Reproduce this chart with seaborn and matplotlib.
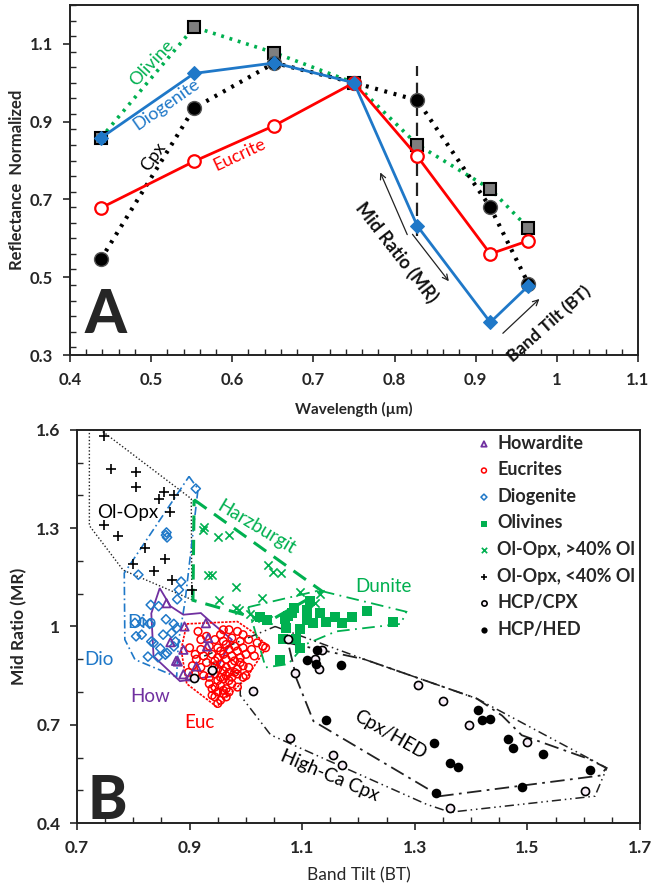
import numpy as np
import pandas as pd
import matplotlib
matplotlib.use("Agg")
import matplotlib.pyplot as plt
from matplotlib.ticker import MultipleLocator, FuncFormatter
from matplotlib.patches import Polygon
import seaborn as sns

sns.set_style("ticks")
plt.rcParams['font.family'] = ['Lato', 'DejaVu Sans']

GREEN = '#00B050'
BLUE = '#1F78C8'
RED = '#FF0000'
PURPLE = '#7030A0'

# ---- Panel A: normalized spectra
wavelength = [0.438, 0.553, 0.652, 0.750, 0.828, 0.918, 0.965]
olivine = [0.858, 1.143, 1.077, 1.000, 0.841, 0.727, 0.626]
diogenite = [0.858, 1.024, 1.051, 1.000, 0.632, 0.384, 0.478]
cpx = [0.546, 0.935, 1.051, 1.000, 0.955, 0.680, 0.483]
eucrite = [0.678, 0.798, 0.890, 1.000, 0.811, 0.560, 0.594]
mr_band = 0.828
mr_band_span = (0.605, 1.043)

# ---- Panel B: band parameters (Band Tilt, Mid Ratio)
how_bt = [0.859, 0.891, 0.866, 0.929, 0.933, 0.931, 0.879, 0.889, 0.901, 0.889, 0.912, 0.876]
how_mr = [1.071, 1.000, 0.952, 1.010, 0.965, 0.939, 0.893, 0.929, 0.848, 0.854, 0.878, 0.895]

dio_bt = [0.911, 0.859, 0.858, 0.860, 0.809, 0.885, 0.881, 0.878, 0.831, 0.845, 0.858, 0.816,
          0.829, 0.872, 0.803, 0.877, 0.805, 0.815, 0.832, 0.853, 0.868, 0.826, 0.848, 0.857,
          0.875, 0.844, 0.860, 0.872, 0.836]
dio_mr = [1.421, 1.287, 1.279, 1.272, 1.158, 1.137, 1.112, 1.083, 1.066, 1.062, 1.022, 1.014,
          1.008, 1.008, 1.011, 0.995, 0.970, 0.975, 0.954, 0.975, 0.980, 0.908, 0.933, 0.914,
          0.954, 0.906, 0.919, 0.939, 0.950]

euc_bt = [0.915, 0.970, 0.985, 0.955, 0.930, 0.995,
          0.920, 0.945, 0.960, 0.975, 0.990, 1.005, 1.020, 1.030,
          0.900, 0.935, 0.950, 0.965, 0.980, 0.995, 1.010, 0.955, 0.970, 0.985,
          0.910, 0.925, 0.940, 0.950, 0.960, 0.975, 0.990, 1.000, 1.015, 0.965, 0.945, 0.980,
          0.905, 0.920, 0.930, 0.945, 0.955, 0.965, 0.975, 0.985, 0.995, 1.005, 0.960, 0.950, 0.940,
          0.910, 0.925, 0.935, 0.945, 0.955, 0.965, 0.975, 0.985, 0.995, 0.970, 0.950, 0.960,
          0.935, 0.945, 0.955, 0.965, 0.975, 0.985, 0.960, 0.950, 0.940, 0.970,
          0.945, 0.955, 0.965, 0.950, 0.960, 0.940,
          0.898, 0.920, 0.912, 1.035, 0.960, 0.980, 0.990, 1.000, 0.970]
euc_mr = [0.985, 0.990, 0.985, 0.975, 0.970, 0.975,
          0.960, 0.960, 0.955, 0.965, 0.955, 0.960, 0.950, 0.940,
          0.935, 0.940, 0.935, 0.945, 0.940, 0.935, 0.930, 0.925, 0.930, 0.925,
          0.915, 0.910, 0.915, 0.905, 0.915, 0.910, 0.905, 0.915, 0.910, 0.900, 0.895, 0.895,
          0.880, 0.875, 0.890, 0.880, 0.885, 0.875, 0.885, 0.870, 0.880, 0.875, 0.865, 0.870, 0.865,
          0.855, 0.850, 0.845, 0.855, 0.845, 0.850, 0.845, 0.855, 0.845, 0.835, 0.835, 0.840,
          0.825, 0.815, 0.820, 0.810, 0.825, 0.815, 0.805, 0.800, 0.810, 0.800,
          0.785, 0.775, 0.785, 0.765, 0.795, 0.790,
          0.860, 0.930, 0.900, 0.935, 0.990, 0.860, 0.890, 0.850, 0.860]

oliv_bt = [1.114, 1.085, 1.109, 1.074, 1.108, 1.119, 1.158, 1.143, 1.170, 1.188, 1.215, 1.262,
           1.096, 1.069, 1.066, 1.089, 1.096, 1.061, 1.025, 1.037, 1.072, 1.082, 1.131]
oliv_mr = [1.078, 1.056, 1.049, 1.031, 1.021, 1.012, 1.029, 1.013, 1.010, 1.028, 1.047, 1.015,
           0.992, 1.022, 0.962, 0.962, 0.935, 0.899, 1.028, 1.020, 0.995, 1.040, 1.040]

olopx_hi_bt = [0.924, 0.926, 0.951, 0.970, 0.933, 0.940, 0.983, 0.953, 0.983, 1.040, 1.048,
               1.062, 1.029, 1.096, 1.131, 1.007, 1.016, 1.040, 1.122, 0.987]
olopx_hi_mr = [1.295, 1.305, 1.272, 1.280, 1.156, 1.156, 1.120, 1.080, 1.055, 1.188, 1.165,
               1.163, 1.088, 1.104, 1.100, 1.038, 1.027, 1.020, 1.071, 1.051]

olopx_lo_bt = [0.748, 0.760, 0.804, 0.804, 0.855, 0.873, 0.846, 0.865, 0.748, 0.772, 0.821,
               0.857, 0.799, 0.836, 0.868, 0.905]
olopx_lo_mr = [1.583, 1.481, 1.471, 1.427, 1.412, 1.402, 1.390, 1.349, 1.310, 1.275, 1.239,
               1.207, 1.190, 1.170, 1.141, 1.110]

hcp_cpx_bt = [1.087, 1.129, 1.305, 1.350, 1.397, 1.499, 1.078, 1.154, 1.170, 1.363, 1.602,
              1.135, 1.123, 1.075, 1.013, 0.907, 0.940]
hcp_cpx_mr = [0.858, 0.870, 0.820, 0.774, 0.698, 0.648, 0.660, 0.609, 0.576, 0.447, 0.497,
              0.929, 0.900, 0.962, 0.802, 0.842, 0.868]

hcp_hed_bt = [1.108, 1.124, 1.169, 1.126, 1.412, 1.420, 1.434, 1.142, 1.334, 1.465, 1.475,
              1.528, 1.363, 1.376, 1.611, 1.490, 1.337]
hcp_hed_mr = [0.897, 0.887, 0.883, 0.929, 0.746, 0.714, 0.718, 0.713, 0.643, 0.658, 0.628,
              0.610, 0.584, 0.570, 0.561, 0.511, 0.492]

# field outlines (BT, MR)
olopx_field = [(0.722, 1.600), (0.742, 1.600), (0.903, 1.390), (0.904, 1.082), (0.782, 1.172), (0.722, 1.308)]
dio_field = [(0.899, 1.458), (0.915, 1.420), (0.892, 1.077), (0.880, 0.950), (0.877, 0.846),
             (0.803, 0.899), (0.785, 0.960), (0.784, 1.163)]
how_field = [(0.847, 1.117), (0.866, 1.062), (0.889, 1.036), (0.920, 1.041), (0.937, 1.015),
             (0.975, 0.960), (0.942, 0.848), (0.883, 0.833), (0.836, 0.909), (0.832, 1.040)]
euc_field = [(0.895, 1.008), (0.985, 1.015), (1.015, 0.980), (1.038, 0.940), (1.000, 0.840),
             (0.948, 0.755), (0.895, 0.825), (0.885, 0.930)]
harz_field = [(0.908, 1.387), (1.135, 1.108), (1.040, 1.015), (0.906, 1.080)]
dunite_field = [(1.004, 1.059), (1.130, 1.110), (1.285, 1.045), (1.275, 1.008), (1.160, 0.985),
                (1.105, 0.945), (1.075, 0.885), (1.035, 0.875)]
cpxhed_field = [(1.075, 0.950), (1.210, 0.900), (1.410, 0.780), (1.455, 0.728), (1.490, 0.668),
                (1.610, 0.595), (1.640, 0.568), (1.630, 0.545), (1.345, 0.482), (1.120, 0.711), (1.090, 0.840)]
highca_field = [(1.052, 1.000), (1.210, 0.900), (1.410, 0.780), (1.641, 0.568), (1.620, 0.482),
                (1.363, 0.433), (1.321, 0.457), (1.044, 0.669), (0.990, 0.790), (0.990, 0.853), (0.918, 0.904)]

fig = plt.figure(figsize=(6.54, 8.86), dpi=100)
ax1 = fig.add_axes([0.107, 0.5993, 0.8685, 0.3951])
ax2 = fig.add_axes([0.1177, 0.0711, 0.8609, 0.4436])

fmt = FuncFormatter(lambda v, p: f"{v:g}")


def style_axis(ax, lab_size):
    for s in ax.spines.values():
        s.set_color('#222222')
        s.set_linewidth(1.4)
    ax.tick_params(which='major', direction='out', length=5, width=1.2, pad=7,
                   labelsize=lab_size)
    ax.tick_params(which='minor', direction='in', length=4, width=1.0)
    for t in ax.get_xticklabels() + ax.get_yticklabels():
        t.set_fontweight('bold')
    ax.xaxis.set_major_formatter(fmt)
    ax.yaxis.set_major_formatter(fmt)


# ---------------- Panel A
ax1.vlines(mr_band, *mr_band_span, colors='#222222', linestyles=(0, (6, 3)), lw=1.6, zorder=1)
sns.lineplot(x=wavelength, y=olivine, ax=ax1, color=GREEN, lw=2.6, linestyle=(0, (0.8, 1.6)),
             marker='s', markersize=9, markerfacecolor='#7f7f7f', markeredgecolor='black',
             markeredgewidth=1.5, zorder=2)
sns.lineplot(x=wavelength, y=cpx, ax=ax1, color='black', lw=3, linestyle=(0, (0.7, 1.6)),
             marker='o', markersize=10, markerfacecolor='black', markeredgecolor='#555555',
             markeredgewidth=1.0, zorder=3)
sns.lineplot(x=wavelength, y=eucrite, ax=ax1, color=RED, lw=2, marker='o', markersize=9,
             markerfacecolor='white', markeredgecolor=RED, markeredgewidth=1.6, zorder=4)
sns.lineplot(x=wavelength, y=diogenite, ax=ax1, color=BLUE, lw=2, marker='D', markersize=7,
             markerfacecolor=BLUE, markeredgecolor=BLUE, zorder=5)

ax1.set_xlim(0.4, 1.1)
ax1.set_ylim(0.3, 1.2)
ax1.set_xticks(np.arange(0.4, 1.101, 0.1))
ax1.set_yticks([0.3, 0.5, 0.7, 0.9, 1.1])
ax1.xaxis.set_minor_locator(MultipleLocator(0.02))
ax1.yaxis.set_minor_locator(MultipleLocator(0.04))
style_axis(ax1, 12)
ax1.set_xlabel('Wavelength (µm)', fontsize=11, fontweight='bold', va='center')
ax1.xaxis.set_label_coords(0.5, -0.155)
ax1.set_ylabel('Reflectance  Normalized', fontsize=12, fontweight='bold', va='center')
ax1.yaxis.set_label_coords(-0.093, 0.5)

txt = dict(ha='center', va='center', rotation_mode='anchor', fontsize=13)
ax1.text(0.501, 1.052, 'Olivine', color=GREEN, rotation=47, **txt)
ax1.text(0.519, 0.944, 'Diogenite', color=BLUE, rotation=35, **txt)
ax1.text(0.503, 0.811, 'Cpx', color='black', rotation=55, **txt)
ax1.text(0.609, 0.815, 'Eucrite', color=RED, rotation=25, **txt)
ax1.text(0.803, 0.563, 'Mid Ratio (MR)', color='#111111', rotation=-52, fontweight='bold',
         ha='center', va='center', rotation_mode='anchor', fontsize=13)
ax1.text(0.991, 0.379, 'Band Tilt (BT)', color='#111111', rotation=41.5, fontweight='bold',
         ha='center', va='center', rotation_mode='anchor', fontsize=12.5)
arrow = dict(arrowstyle='->', color='#222222', lw=0.9)
ax1.annotate('', xy=(0.781, 0.776), xytext=(0.817, 0.603), arrowprops=arrow)
ax1.annotate('', xy=(0.869, 0.484), xytext=(0.820, 0.616), arrowprops=arrow)
ax1.annotate('', xy=(0.981, 0.449), xytext=(0.931, 0.351), arrowprops=arrow)
ax1.text(0.4185, 0.357, 'A', fontsize=43, fontweight='black', va='baseline', ha='left')

# ---------------- Panel B
fields = [
    (olopx_field, '#222222', (0, (1, 1.5)), 1.0),
    (dio_field, BLUE, (0, (5, 2, 1, 2)), 1.2),
    (how_field, PURPLE, '-', 1.3),
    (euc_field, RED, (0, (1.5, 0.8)), 1.2),
    (harz_field, GREEN, (0, (5, 3)), 2.2),
    (dunite_field, GREEN, (0, (7, 3, 1, 3)), 1.3),
    (cpxhed_field, '#222222', (0, (8, 3, 1.5, 3)), 1.3),
    (highca_field, '#222222', (0, (6, 2.5, 1, 2.5, 1, 2.5)), 1.1),
]
for pts, col, ls, lw in fields:
    ax2.add_patch(Polygon(pts, closed=True, fill=False, edgecolor=col, linestyle=ls, lw=lw, zorder=2))

sns.scatterplot(x=olopx_lo_bt, y=olopx_lo_mr, ax=ax2, marker='+', s=45, color='black',
                linewidth=1.2, label='Ol-Opx, <40% Ol', zorder=3)
sns.scatterplot(x=olopx_hi_bt, y=olopx_hi_mr, ax=ax2, marker='x', s=35, color=GREEN,
                linewidth=1.2, label='Ol-Opx, >40% Ol', zorder=3)
sns.scatterplot(x=dio_bt, y=dio_mr, ax=ax2, marker='D', s=22, facecolor='none',
                edgecolor=BLUE, linewidth=1.1, label='Diogenite', zorder=3)
sns.scatterplot(x=oliv_bt, y=oliv_mr, ax=ax2, marker='s', s=55, color=GREEN,
                edgecolor=GREEN, linewidth=0, label='Olivines', zorder=3)
sns.scatterplot(x=euc_bt, y=euc_mr, ax=ax2, marker='o', s=30, facecolor='none',
                edgecolor=RED, linewidth=1.1, label='Eucrites', zorder=4)
sns.scatterplot(x=how_bt, y=how_mr, ax=ax2, marker='^', s=36, facecolor='none',
                edgecolor=PURPLE, linewidth=1.3, label='Howardite', zorder=5)
sns.scatterplot(x=hcp_cpx_bt, y=hcp_cpx_mr, ax=ax2, marker='o', s=34, facecolor='#f8eef8',
                edgecolor='black', linewidth=1.2, label='HCP/CPX', zorder=5)
sns.scatterplot(x=hcp_hed_bt, y=hcp_hed_mr, ax=ax2, marker='o', s=48, color='black',
                edgecolor='black', linewidth=0, label='HCP/HED', zorder=5)

ax2.set_xlim(0.7, 1.7)
ax2.set_ylim(0.4, 1.6)
ax2.set_xticks(np.arange(0.7, 1.701, 0.2))
ax2.set_yticks([0.4, 0.7, 1.0, 1.3, 1.6])
ax2.xaxis.set_minor_locator(MultipleLocator(0.05))
ax2.yaxis.set_minor_locator(MultipleLocator(0.1))
style_axis(ax2, 12.5)
ax2.set_xlabel('Band Tilt (BT)', fontsize=12.5, va='center')
ax2.xaxis.set_label_coords(0.5, -0.132)
ax2.set_ylabel('Mid Ratio (MR)', fontsize=12.5, fontweight='bold', va='center')
ax2.yaxis.set_label_coords(-0.103, 0.5)

handles, labels = ax2.get_legend_handles_labels()
order = ['Howardite', 'Eucrites', 'Diogenite', 'Olivines', 'Ol-Opx, >40% Ol',
         'Ol-Opx, <40% Ol', 'HCP/CPX', 'HCP/HED']
hmap = dict(zip(labels, handles))
leg = ax2.legend([hmap[k] for k in order], order, loc='upper left',
                 bbox_to_anchor=(0.71, 0.988), frameon=False, markerscale=0.65,
                 handlelength=0.8, handletextpad=0.35, labelspacing=0.53,
                 borderpad=0, borderaxespad=0, prop=dict(size=13, weight='bold'))

lab = dict(ha='center', va='center', rotation_mode='anchor', fontsize=13.5)
ax2.text(0.791, 1.349, 'Ol-Opx', color='black', **lab)
ax2.text(1.018, 1.303, 'Harzburgit', color=GREEN, rotation=-31, **lab)
ax2.text(1.244, 1.122, 'Dunite', color=GREEN, **lab)
ax2.text(0.815, 1.011, 'Dio', color=BLUE, **lab)
ax2.text(0.739, 0.899, 'Dio', color=BLUE, **lab)
ax2.text(0.830, 0.787, 'How', color=PURPLE, **lab)
ax2.text(0.918, 0.706, 'Euc', color=RED, **lab)
ax2.text(1.256, 0.670, 'Cpx/HED', color='black', rotation=-30, **lab)
ax2.text(1.149, 0.543, 'High-Ca Cpx', color='black', rotation=-23, **lab)
ax2.text(0.719, 0.411, 'B', fontsize=43, fontweight='black', va='baseline', ha='left')

fig.savefig('out.png', dpi=100)
